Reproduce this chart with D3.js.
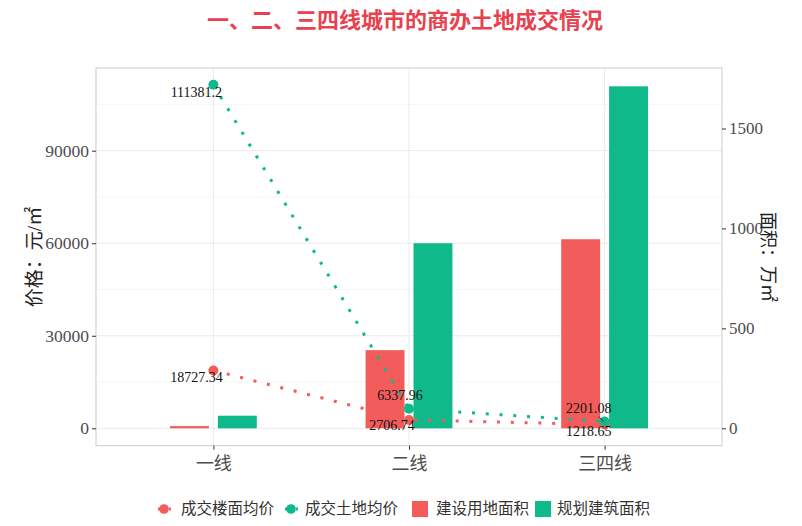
<!DOCTYPE html>
<html><head><meta charset="utf-8">
<script src="https://cdn.jsdelivr.net/npm/d3@7/dist/d3.min.js"></script>
<style>
body{margin:0;background:#fff;}
text{font-family:"Liberation Serif","Noto Sans CJK SC",serif;}
</style></head>
<body><svg id="c" width="802" height="526"></svg>
<script>
const categories = ["一线","二线","三四线"];
const landArea = [11, 391, 946];        // 建设用地面积 (万㎡)
const buildArea = [63, 926, 1711];      // 规划建筑面积 (万㎡)
const floorPrice = [18727.34, 2706.74, 1218.65];   // 成交楼面均价
const landPrice = [111381.2, 6337.96, 2201.08];    // 成交土地均价
const leftTicks = [0, 30000, 60000, 90000];
const rightTicks = [0, 500, 1000, 1500];
const barSeries = ["建设用地面积","规划建筑面积"];
const lineSeries = ["成交楼面均价","成交土地均价"];

// styling
const RED = "#F25D5C", GREEN = "#10B98A";
const floorLabelNudge = [[-17,11],[-17,10],[-16,11.5]];
const landLabelNudge = [[-17,12],[-9,-9],[-16,-8.5]];

const svg = d3.select("#c");
const L = 96, R = 722, T = 68, B = 445.7;
const RATIO = 64.8;
const y = d3.scaleLinear().domain([-5640, 116810]).range([B, T]);
const y2 = d3.scaleLinear().domain([-5640/RATIO, 116810/RATIO]).range([B, T]);
const x = d3.scalePoint().domain(categories).range([L, R]).padding(0.6);
const step = x.step();
const xs = d3.scaleBand().domain(barSeries).range([-0.222*step, 0.222*step]).paddingInner(0.1875);

// title
svg.append("text").attr("x", 405).attr("y", 28).attr("text-anchor","middle")
  .style("font-family","'Noto Sans CJK SC'").style("font-weight","bold")
  .style("font-size","22px").attr("fill","#E8414F").text("一、二、三四线城市的商办土地成交情况");

// grid
const minor = [15000,45000,75000,105000];
const g = svg.append("g");
g.selectAll(".mn").data(minor).enter().append("line")
  .attr("x1",L).attr("x2",R).attr("y1",d=>y(d)).attr("y2",d=>y(d))
  .attr("stroke","#F3F3F3").attr("stroke-width",0.8);
g.selectAll(".mj").data(leftTicks).enter().append("line")
  .attr("x1",L).attr("x2",R).attr("y1",d=>y(d)).attr("y2",d=>y(d))
  .attr("stroke","#EBEBEB").attr("stroke-width",1);
g.selectAll(".vx").data(categories).enter().append("line")
  .attr("x1",d=>x(d)).attr("x2",d=>x(d)).attr("y1",T).attr("y2",B)
  .attr("stroke","#EBEBEB").attr("stroke-width",1);

// bars
const barData = [];
categories.forEach((c,i)=>{
  barData.push({c, s:barSeries[0], v:landArea[i], col:RED});
  barData.push({c, s:barSeries[1], v:buildArea[i], col:GREEN});
});
svg.append("g").selectAll("rect").data(barData).enter().append("rect")
  .attr("x", d=>x(d.c)+xs(d.s)).attr("width", xs.bandwidth())
  .attr("y", d=>y2(d.v)).attr("height", d=>y2(0)-y2(d.v))
  .attr("fill", d=>d.col);

// lines
const lineGen = d3.line().x((d,i)=>x(categories[i])).y(d=>y(d));
[[floorPrice,RED],[landPrice,GREEN]].forEach(([arr,col])=>{
  svg.append("path").attr("d", lineGen(arr)).attr("fill","none")
    .attr("stroke",col).attr("stroke-width",3).attr("stroke-dasharray","3,10.8");
});
[[floorPrice,RED],[landPrice,GREEN]].forEach(([arr,col])=>{
  svg.append("g").selectAll("circle").data(arr).enter().append("circle")
    .attr("cx",(d,i)=>x(categories[i])).attr("cy",d=>y(d)).attr("r",5).attr("fill",col);
});

// labels
function labels(arr, nudge){
  svg.append("g").selectAll("text").data(arr).enter().append("text")
    .attr("x",(d,i)=>x(categories[i])+nudge[i][0]).attr("y",(d,i)=>y(d)+nudge[i][1])
    .attr("text-anchor","middle").style("font-size","14px").attr("fill","#111")
    .text(d=>String(d));
}
labels(landPrice, landLabelNudge);
labels(floorPrice, floorLabelNudge);
// repel segment for 2201.08
svg.append("line").attr("x1",x(categories[2])-6).attr("y1",y(landPrice[2])-5)
  .attr("x2",x(categories[2])-1).attr("y2",y(landPrice[2])).attr("stroke","#111").attr("stroke-width",0.8);

// panel border
svg.append("rect").attr("x",L).attr("y",T).attr("width",R-L).attr("height",B-T)
  .attr("fill","none").attr("stroke","#CCCCCC").attr("stroke-width",1);

// axes
const ax = svg.append("g").attr("transform",`translate(${L},0)`)
  .call(d3.axisLeft(y).tickValues(leftTicks).tickSize(4).tickPadding(3).tickFormat(d3.format("d")));
const ax2 = svg.append("g").attr("transform",`translate(${R},0)`)
  .call(d3.axisRight(y2).tickValues(rightTicks).tickSize(4).tickPadding(3).tickFormat(d3.format("d")));
const ax3 = svg.append("g").attr("transform",`translate(0,${B})`)
  .call(d3.axisBottom(x).tickSize(4).tickPadding(4));
[ax,ax2,ax3].forEach(a=>{
  a.select(".domain").remove();
  a.selectAll(".tick line").attr("stroke","#333");
  a.selectAll(".tick text").attr("fill","#4D4D4D")
   .style("font-family","'Liberation Serif','Noto Sans CJK SC',serif");
});
ax.selectAll(".tick text").style("font-size","17.5px");
ax2.selectAll(".tick text").style("font-size","17px");
ax3.selectAll(".tick text").style("font-size","18px").style("font-family","'Noto Sans CJK SC'").attr("dy","0.9em");

// axis titles
svg.append("text").attr("transform","translate(41,257) rotate(-90)").attr("text-anchor","middle")
  .style("font-size","19px").attr("fill","#222").text("价格：元/㎡");
svg.append("text").attr("transform","translate(762,257) rotate(90)").attr("text-anchor","middle")
  .style("font-size","18px").attr("fill","#222").text("面积：万㎡");

// legend
const lg = svg.append("g").attr("transform","translate(0,509)");
const legendLines = [[lineSeries[0],RED,164,181],[lineSeries[1],GREEN,291,305]];
legendLines.forEach(([t,c,kx,tx])=>{
  lg.append("line").attr("x1",kx-7).attr("x2",kx+7).attr("y1",0).attr("y2",0)
    .attr("stroke",c).attr("stroke-width",3).attr("stroke-dasharray","3,8").attr("stroke-dashoffset",-1);
  lg.append("circle").attr("cx",kx).attr("cy",0).attr("r",4.8).attr("fill",c);
  lg.append("text").attr("x",tx).attr("y",0).attr("dy","0.35em").style("font-size","15.5px")
    .style("font-family","'Noto Sans CJK SC'").attr("fill","#333").text(t);
});
const legendBars = [[barSeries[0],RED,412,436],[barSeries[1],GREEN,535,557]];
legendBars.forEach(([t,c,kx,tx])=>{
  lg.append("rect").attr("x",kx).attr("y",-8).attr("width",16).attr("height",16).attr("fill",c);
  lg.append("text").attr("x",tx).attr("y",0).attr("dy","0.35em").style("font-size","15.5px")
    .style("font-family","'Noto Sans CJK SC'").attr("fill","#333").text(t);
});
</script></body></html>
